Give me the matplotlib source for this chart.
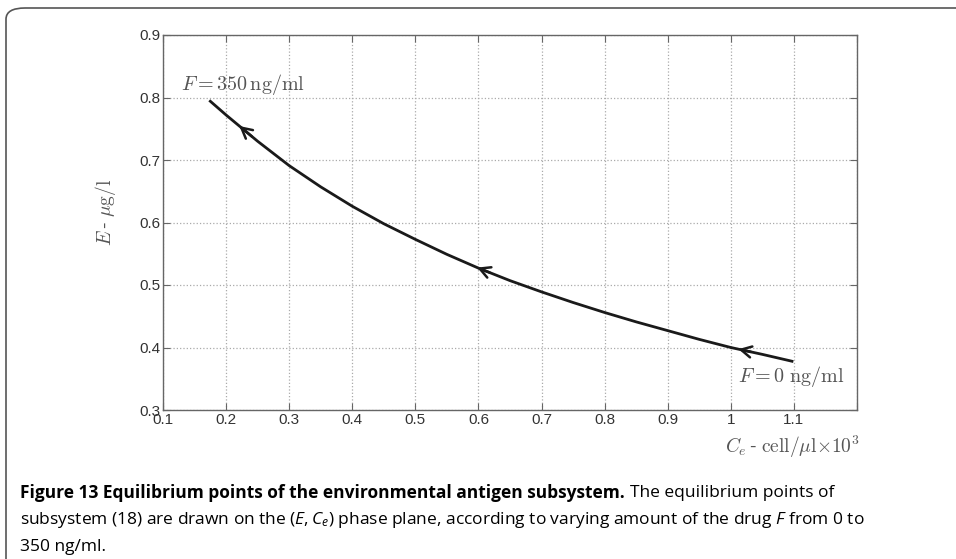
import numpy as np
import matplotlib
import matplotlib.pyplot as plt
from matplotlib.patches import FancyBboxPatch

# equilibrium curve (C_e, E)
ce_vals = [0.175, 0.20, 0.25, 0.30, 0.35, 0.40, 0.45, 0.50, 0.55, 0.60, 0.65, 0.70,
           0.75, 0.80, 0.85, 0.90, 0.95, 1.00, 1.05, 1.097]
e_vals = [0.794, 0.772, 0.730, 0.691, 0.657, 0.626, 0.598, 0.573, 0.549, 0.527, 0.507, 0.489,
          0.472, 0.456, 0.441, 0.427, 0.413, 0.400, 0.389, 0.378]
arrow_ce = [0.221, 0.598, 1.012]

x_ticks = [0.1, 0.2, 0.3, 0.4, 0.5, 0.6, 0.7, 0.8, 0.9, 1.0, 1.1, 1.2]
x_ticklabels = ['0.1', '0.2', '0.3', '0.4', '0.5', '0.6', '0.7', '0.8', '0.9', '1', '1.1', '']
y_ticks = [0.3, 0.4, 0.5, 0.6, 0.7, 0.8, 0.9]
y_ticklabels = ['0.3', '0.4', '0.5', '0.6', '0.7', '0.8', '0.9']

plt.rcParams['font.family'] = ['Liberation Sans', 'DejaVu Sans']
plt.rcParams['mathtext.fontset'] = 'cm'
plt.rcParams['mathtext.rm'] = 'Open Sans'
plt.rcParams['mathtext.it'] = 'Open Sans:italic'

fig = plt.figure(figsize=(9.56, 5.59), dpi=100)
W, H = 956, 559

# rounded frame around the figure
frame = FancyBboxPatch((6 / W, -0.05), 1.2, 1 - 8 / H + 0.05,
                       boxstyle='round,pad=0,rounding_size=0.02',
                       transform=fig.transFigure, fill=False,
                       edgecolor='#555555', linewidth=1.2)
fig.patches.append(frame)

ax = fig.add_axes([163 / W, 1 - 410 / H, (857 - 163) / W, (410 - 35) / H])
ax.set_xlim(0.1, 1.2)
ax.set_ylim(0.3, 0.9)
ax.set_xticks(x_ticks)
ax.set_xticklabels(x_ticklabels)
ax.set_yticks(y_ticks)
ax.set_yticklabels(y_ticklabels)
ax.tick_params(direction='in', top=True, right=True, length=5, width=0.8,
               colors='#666666', labelcolor='#333333', labelsize=11, pad=2)
for s in ax.spines.values():
    s.set_color('#666666')
    s.set_linewidth(1.0)
ax.grid(True, linestyle=':', color='#aaaaaa', linewidth=0.9)

ax.plot(ce_vals, e_vals, color='#1a1a1a', linewidth=2.0)

for xa in arrow_ce:
    ya = np.interp(xa, ce_vals, e_vals)
    xb = xa + 0.02
    yb = np.interp(xb, ce_vals, e_vals)
    ax.annotate('', xy=(xa, ya), xytext=(xb, yb),
                arrowprops=dict(arrowstyle='->,head_length=0.75,head_width=0.4',
                                color='#1a1a1a', linewidth=1.8, shrinkA=0, shrinkB=0))

ax.text(0.129, 0.821, r'$F = 350\,\mathrm{ng/ml}$', fontsize=14.5, color='#555555',
        math_fontfamily='cm', va='center', ha='left')
ax.text(1.012, 0.354, r'$F = 0\ \mathrm{ng/ml}$', fontsize=14.5, color='#555555',
        math_fontfamily='cm', va='center', ha='left')

fig.text(860 / W, 1 - 447 / H, r'$C_e\,$- $\mathrm{cell}/\mu\mathrm{l}{\times}10^3$',
         fontsize=14, color='#555555', math_fontfamily='cm', ha='right', va='center')
fig.text(106 / W, 1 - 212 / H, r'$E\,$- $\mu\mathrm{g/l}$', fontsize=14, color='#555555',
         math_fontfamily='cm', ha='center', va='center', rotation=90)

# caption
cap_font = ['Liberation Sans Narrow', 'Open Sans']
fs = 12.5
r = fig.canvas.get_renderer()
t1 = fig.text(20 / W, 1 - 493 / H, 'Figure 13 Equilibrium points of the environmental antigen subsystem.',
              fontsize=fs, fontweight='bold', family=cap_font, va='center', ha='left')
bb = t1.get_window_extent(renderer=r)
fig.text(bb.x1 / W + 5 / W, 1 - 493 / H, 'The equilibrium points of',
         fontsize=fs, family=cap_font, va='center', ha='left', math_fontfamily='custom')
fig.text(20 / W, 1 - 520 / H,
         r'subsystem (18) are drawn on the $(E, C_e)$ phase plane, according to varying amount of the drug $F$ from 0 to',
         fontsize=fs, family=cap_font, va='center', ha='left', math_fontfamily='custom')
fig.text(20 / W, 1 - 547 / H, '350 ng/ml.',
         fontsize=fs, family=cap_font, va='center', ha='left', math_fontfamily='custom')

fig.savefig('out.png', dpi=100)
